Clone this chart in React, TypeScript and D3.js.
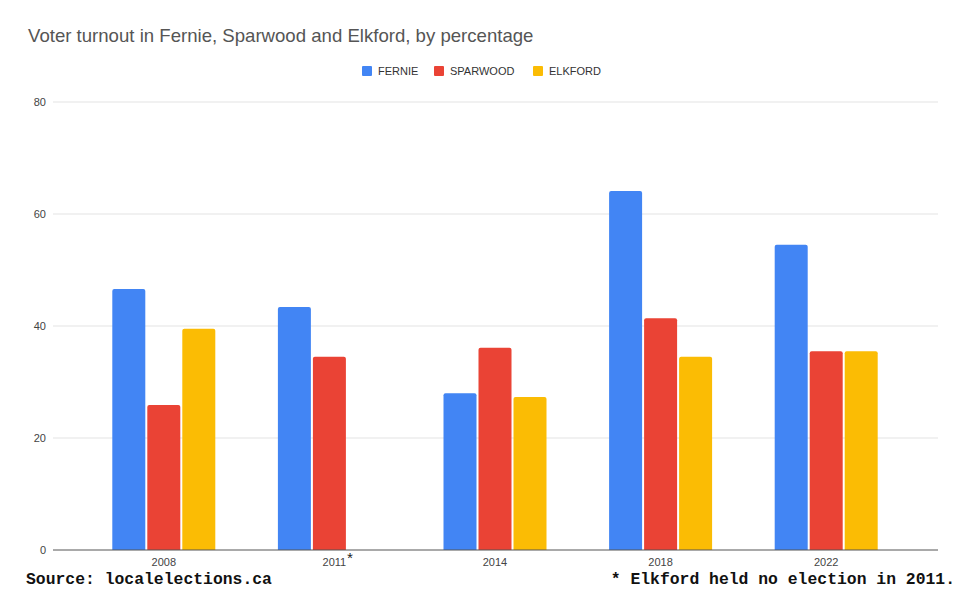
import React from "react";
import * as d3 from "d3";

const years = ["2008", "2011", "2014", "2018", "2022"];
const seriesNames = ["FERNIE", "SPARWOOD", "ELKFORD"];
const fernie = [46.6, 43.4, 28.0, 64.1, 54.5];
const sparwood = [25.9, 34.5, 36.1, 41.4, 35.5];
const elkford: (number | null)[] = [39.5, null, 27.3, 34.5, 35.5];
const colors = ["#4285F4", "#EA4335", "#FBBC04"];
const yTicks = [0, 20, 40, 60, 80];

const W = 960;
const H = 594;

export default function App() {
  const series = [fernie, sparwood, elkford];
  const y = d3.scaleLinear().domain([0, 80]).range([550, 102]);
  const x = d3.scaleBand().domain(years).range([81, 909]);
  const barW = 33;
  const gap = 2;
  const gridLeft = 53;
  const gridRight = 938;
  const sans = "'Liberation Sans', Arial, sans-serif";
  const mono = "'Liberation Mono', 'Courier New', monospace";

  const barPath = (x0: number, v: number) => {
    const x1 = x0 + barW;
    const y0 = y(v);
    const y1 = y(0);
    const r = 2;
    return `M${x0},${y1}V${y0 + r}Q${x0},${y0} ${x0 + r},${y0}H${x1 - r}Q${x1},${y0} ${x1},${y0 + r}V${y1}Z`;
  };

  return (
    <div style={{ position: "fixed", left: 0, top: 0, width: W, height: H, background: "#fff" }}>
      <svg width={W} height={H} style={{ display: "block" }} fontFamily={sans}>
        <rect width={W} height={H} fill="#fff" />
        <text x={28} y={42} fontSize={18.6} fill="#555">
          Voter turnout in Fernie, Sparwood and Elkford, by percentage
        </text>
        {(() => {
          const starts = [362, 434, 533];
          return seriesNames.map((n, i) => (
            <g key={n}>
              <rect x={starts[i]} y={66} width={10} height={10} rx={1} fill={colors[i]} />
              <text x={starts[i] + 16} y={75} fontSize={11} fill="#333">
                {n}
              </text>
            </g>
          ));
        })()}
        {yTicks.map((t) => (
          <g key={t}>
            {t !== 0 && (
              <line x1={gridLeft} x2={gridRight} y1={y(t)} y2={y(t)} stroke="#e3e3e3" strokeWidth={1} />
            )}
            <text x={46} y={y(t) + 4} fontSize={11} fill="#444" textAnchor="end">
              {t}
            </text>
          </g>
        ))}
        {years.map((yr, gi) => {
          const cx = (x(yr) as number) + x.bandwidth() / 2;
          const groupW = 3 * barW + 2 * gap;
          const present = series
            .map((s, si) => ({ v: s[gi], si }))
            .filter((d) => d.v !== null && d.v !== undefined);
          const start = present.length === 2 ? cx - (barW + gap) - barW / 2 : cx - groupW / 2;
          return present.map(({ v, si }) => (
            <path key={yr + si} d={barPath(start + si * (barW + gap), v as number)} fill={colors[si]} />
          ));
        })}
        <line x1={gridLeft} x2={gridRight} y1={y(0)} y2={y(0)} stroke="#555" strokeWidth={1} />
        {years.map((yr) => {
          const cx = (x(yr) as number) + x.bandwidth() / 2;
          return (
            <g key={yr}>
              <text x={yr === "2011" ? cx + 5 : cx} y={566} fontSize={11} fill="#444" textAnchor="middle">
                {yr}
              </text>
              {yr === "2011" && (
                <text x={cx + 16} y={564} fontSize={15} fill="#222" fontFamily={mono}>
                  *
                </text>
              )}
            </g>
          );
        })}
        <text x={26} y={584} fontSize={16.4} fontWeight="bold" fill="#111" fontFamily={mono}>
          Source: localelections.ca
        </text>
        <text x={955} y={584} fontSize={16.4} fontWeight="bold" fill="#111" textAnchor="end" fontFamily={mono}>
          * Elkford held no election in 2011.
        </text>
      </svg>
    </div>
  );
}
